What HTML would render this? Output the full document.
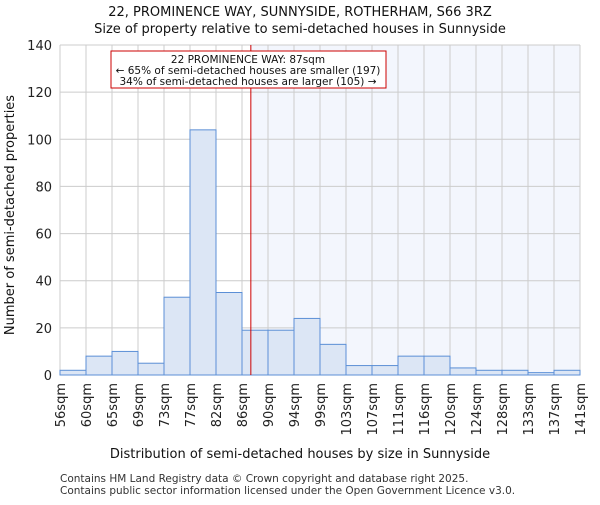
<!DOCTYPE html>
<html><head><meta charset="utf-8"><style>body{margin:0;background:#fff}svg{font-family:"DejaVu Sans","Liberation Sans",sans-serif}</style></head>
<body>
<svg id="c" width="600" height="500"></svg>
<script>
const categories=["56sqm","60sqm","65sqm","69sqm","73sqm","77sqm","82sqm","86sqm","90sqm","94sqm","99sqm","103sqm","107sqm","111sqm","116sqm","120sqm","124sqm","128sqm","133sqm","137sqm","141sqm"];
const counts=[2,8,10,5,33,104,35,19,19,24,13,4,4,8,8,3,2,2,1,2];
const yTicks=[0,20,40,60,80,100,120,140];
const marker=7.34;
const svg=document.getElementById('c');const NS='http://www.w3.org/2000/svg';
const L=60,R=580,T=45,B=375,yMax=140;
const bw=(R-L)/counts.length;
const x=i=>L+i*bw, y=v=>B-(v/yMax)*(B-T);
function add(tag,a,name,txt){const e=document.createElementNS(NS,tag);for(const k in a)e.setAttribute(k,a[k]);if(txt!==undefined)e.textContent=txt;svg.appendChild(e);return e;}
add('rect',{x:x(marker),y:T,width:R-x(marker),height:B-T,fill:'#f3f6fd'},'larger-region');
for(let i=0;i<=counts.length;i++)add('line',{x1:x(i),x2:x(i),y1:T,y2:B,stroke:'#cccccc'},'v-grid');
yTicks.forEach(t=>{add('line',{x1:L,x2:R,y1:y(t),y2:y(t),stroke:'#cccccc'},'h-grid');add('text',{x:L-8,y:y(t)+5,'text-anchor':'end','font-size':13,fill:'#222'},'y-tick-label',t);});
counts.forEach((v,i)=>add('rect',{x:x(i),y:y(v),width:bw,height:B-y(v),fill:'#dce6f5',stroke:'#5b8fd6','stroke-width':1},'bar-'+categories[i]));
categories.forEach((c,i)=>add('text',{transform:`translate(${x(i)+5},${B+8}) rotate(-90)`,'text-anchor':'end','font-size':13,fill:'#222'},'x-tick-label',c));
add('line',{x1:x(marker),x2:x(marker),y1:T,y2:B,stroke:'#cc0000','stroke-width':1},'property-marker-line');
add('rect',{x:111,y:51,width:275,height:37,fill:'#fff',stroke:'#cc0000'},'annotation-box');
add('text',{x:248,y:63,'text-anchor':'middle','font-size':10.5,fill:'#111'},'annotation-title','22 PROMINENCE WAY: 87sqm');
add('text',{x:248,y:74,'text-anchor':'middle','font-size':10.5,fill:'#111'},'annotation-smaller','← 65% of semi-detached houses are smaller (197)');
add('text',{x:248,y:85,'text-anchor':'middle','font-size':10.5,fill:'#111'},'annotation-larger','34% of semi-detached houses are larger (105) →');
add('text',{x:300,y:16,'text-anchor':'middle','font-size':13,fill:'#111'},'chart-title','22, PROMINENCE WAY, SUNNYSIDE, ROTHERHAM, S66 3RZ');
add('text',{x:300,y:33,'text-anchor':'middle','font-size':13,fill:'#111'},'chart-subtitle','Size of property relative to semi-detached houses in Sunnyside');
add('text',{x:300,y:458,'text-anchor':'middle','font-size':13,fill:'#111'},'x-axis-title','Distribution of semi-detached houses by size in Sunnyside');
add('text',{transform:'translate(14,215) rotate(-90)','text-anchor':'middle','font-size':13,fill:'#111'},'y-axis-title','Number of semi-detached properties');
add('text',{x:60,y:482,'font-size':10.5,fill:'#333'},'footer-line-1','Contains HM Land Registry data © Crown copyright and database right 2025.');
add('text',{x:60,y:494,'font-size':10.5,fill:'#333'},'footer-line-2','Contains public sector information licensed under the Open Government Licence v3.0.');
</script>
</body></html>
